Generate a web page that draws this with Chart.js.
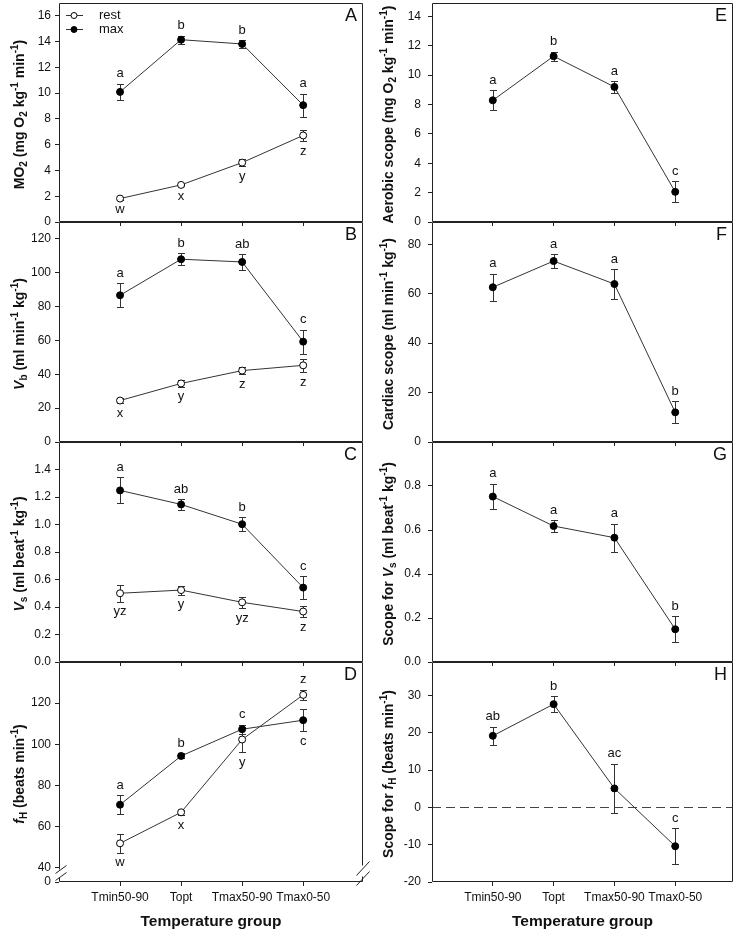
<!DOCTYPE html>
<html>
<head>
  <title>Temperature group panels</title>
  <script src="https://cdn.jsdelivr.net/npm/chart.js"></script>
  <style>
    body { margin: 0; background: #fff; }
    #wrap { position: relative; width: 741px; height: 932px; }
    #wrap canvas { position: absolute; }
  </style>
</head>
<body>
  <div id="wrap"></div>
  <script>
    const groups = ['Tmin50-90', 'Topt', 'Tmax50-90', 'Tmax0-50'];

    // A: MO2
    const mo2Rest = [1.82, 2.88, 4.61, 6.72];
    const mo2RestErr = [0.1, 0.1, 0.3, 0.45];
    const mo2RestSig = ['w', 'x', 'y', 'z'];
    const mo2Max = [10.1, 14.15, 13.82, 9.07];
    const mo2MaxErr = [0.65, 0.3, 0.3, 0.9];
    const mo2MaxSig = ['a', 'b', 'b', 'a'];

    // B: Vb
    const vbRest = [24.5, 34.6, 42.2, 45.3];
    const vbRestErr = [1.6, 2.0, 2.0, 4.0];
    const vbRestSig = ['x', 'y', 'z', 'z'];
    const vbMax = [86.7, 108.0, 106.4, 59.3];
    const vbMaxErr = [7.2, 3.5, 4.6, 7.1];
    const vbMaxSig = ['a', 'b', 'ab', 'c'];

    // C: Vs
    const vsRest = [0.5, 0.523, 0.434, 0.367];
    const vsRestErr = [0.063, 0.033, 0.041, 0.04];
    const vsRestSig = ['yz', 'y', 'yz', 'z'];
    const vsMax = [1.248, 1.146, 1.002, 0.541];
    const vsMaxErr = [0.094, 0.037, 0.05, 0.085];
    const vsMaxSig = ['a', 'ab', 'b', 'c'];

    // D: fH
    const fhRest = [51.8, 66.9, 102.3, 124.0];
    const fhRestErr = [4.5, 1.3, 6.2, 2.6];
    const fhRestSig = ['w', 'x', 'y', 'z'];
    const fhRestSigPos = ['below', 'below', 'below', 'above'];
    const fhMax = [70.6, 94.3, 107.3, 111.7];
    const fhMaxErr = [4.5, 1.2, 2.2, 5.5];
    const fhMaxSig = ['a', 'b', 'c', 'c'];
    const fhMaxSigPos = ['above', 'above', 'above', 'below'];

    // E-H: scopes
    const aerobicScope = [8.28, 11.28, 9.19, 2.05];
    const aerobicScopeErr = [0.68, 0.3, 0.4, 0.72];
    const aerobicScopeSig = ['a', 'b', 'a', 'c'];
    const cardiacScope = [62.6, 73.2, 63.9, 12.0];
    const cardiacScopeErr = [5.4, 2.8, 6.1, 4.4];
    const cardiacScopeSig = ['a', 'a', 'a', 'b'];
    const vsScope = [0.752, 0.618, 0.565, 0.149];
    const vsScopeErr = [0.058, 0.027, 0.063, 0.06];
    const vsScopeSig = ['a', 'a', 'a', 'b'];
    const fhScope = [19.2, 27.7, 5.1, -10.4];
    const fhScopeErr = [2.4, 2.1, 6.6, 4.75];
    const fhScopeSig = ['ab', 'b', 'ac', 'c'];

    const FONT = "'Liberation Sans', Arial, sans-serif";
    const INK = '#111';
    const LINE = '#333';

    const rest = (v, e, s, pos) => ({ label: 'rest', v, e, s, pos: pos || 'below', open: true });
    const max = (v, e, s, pos) => ({ label: 'max', v, e, s, pos: pos || 'above', open: false });

    const panels = [
      { key: 'A', col: 0, row: 0, min: 0, max: 17, from: 0, to: 16, step: 2, dec: 0, legend: true,
        title: [['MO', 'b'], ['2', 'sub'], [' (mg O', 'b'], ['2', 'sub'], [' kg', 'b'], ['-1', 'sup'], [' min', 'b'], ['-1', 'sup'], [')', 'b']],
        series: [rest(mo2Rest, mo2RestErr, mo2RestSig), max(mo2Max, mo2MaxErr, mo2MaxSig)] },
      { key: 'B', col: 0, row: 1, min: 0, max: 130, from: 0, to: 120, step: 20, dec: 0,
        title: [['V', 'i'], ['b', 'sub'], [' (ml min', 'b'], ['-1', 'sup'], [' kg', 'b'], ['-1', 'sup'], [')', 'b']],
        series: [rest(vbRest, vbRestErr, vbRestSig), max(vbMax, vbMaxErr, vbMaxSig)] },
      { key: 'C', col: 0, row: 2, min: 0, max: 1.6, from: 0, to: 1.4, step: 0.2, dec: 1,
        title: [['V', 'i'], ['s', 'sub'], [' (ml beat', 'b'], ['-1', 'sup'], [' kg', 'b'], ['-1', 'sup'], [')', 'b']],
        series: [rest(vsRest, vsRestErr, vsRestSig), max(vsMax, vsMaxErr, vsMaxSig)] },
      { key: 'D', col: 0, row: 3, min: 33, max: 140, from: 40, to: 120, step: 20, dec: 0, broken: true,
        title: [['f', 'i'], ['H', 'sub'], [' (beats min', 'b'], ['-1', 'sup'], [')', 'b']],
        series: [rest(fhRest, fhRestErr, fhRestSig, fhRestSigPos), max(fhMax, fhMaxErr, fhMaxSig, fhMaxSigPos)] },
      { key: 'E', col: 1, row: 0, min: 0, max: 14.9, from: 0, to: 14, step: 2, dec: 0,
        title: [['Aerobic scope (mg O', 'b'], ['2', 'sub'], [' kg', 'b'], ['-1', 'sup'], [' min', 'b'], ['-1', 'sup'], [')', 'b']],
        series: [max(aerobicScope, aerobicScopeErr, aerobicScopeSig)] },
      { key: 'F', col: 1, row: 1, min: 0, max: 89, from: 0, to: 80, step: 20, dec: 0,
        title: [['Cardiac scope (ml min', 'b'], ['-1', 'sup'], [' kg', 'b'], ['-1', 'sup'], [')', 'b']],
        series: [max(cardiacScope, cardiacScopeErr, cardiacScopeSig)] },
      { key: 'G', col: 1, row: 2, min: 0, max: 1.0, from: 0, to: 0.8, step: 0.2, dec: 1,
        title: [['Scope for ', 'b'], ['V', 'i'], ['s', 'sub'], [' (ml beat', 'b'], ['-1', 'sup'], [' kg', 'b'], ['-1', 'sup'], [')', 'b']],
        series: [max(vsScope, vsScopeErr, vsScopeSig)] },
      { key: 'H', col: 1, row: 3, min: -20, max: 39, from: -20, to: 30, step: 10, dec: 0, zeroLine: true,
        title: [['Scope for ', 'b'], ['f', 'i'], ['H', 'sub'], [' (beats min', 'b'], ['-1', 'sup'], [')', 'b']],
        series: [max(fhScope, fhScopeErr, fhScopeSig)] }
    ];

    // canvas placement for each row / column
    const rows = [
      { top: 0, h: 232, pad: 3, xh: 10 },
      { top: 212, h: 240, pad: 10, xh: 10 },
      { top: 432, h: 240, pad: 10, xh: 10 },
      { top: 652, h: 280, pad: 10, xh: 50 }
    ];
    const cols = [
      { left: 0, w: 370, axisW: 59, padR: 7, tickPad: 4, titleX: 18.5, xMax: 4.98 },
      { left: 370, w: 371, axisW: 62, padR: 8, tickPad: 7, titleX: 17.5, xMax: 4.95 }
    ];

    function drawTitle(ctx, segs, cx, cy) {
      const fontOf = k => k === 'i' ? 'italic bold 14px ' + FONT
        : (k === 'sub' || k === 'sup') ? 'bold 10px ' + FONT : 'bold 14px ' + FONT;
      ctx.save();
      let total = 0;
      segs.forEach(([t, k]) => { ctx.font = fontOf(k); total += ctx.measureText(t).width; });
      ctx.translate(cx, cy);
      ctx.rotate(-Math.PI / 2);
      ctx.textAlign = 'left';
      ctx.textBaseline = 'alphabetic';
      ctx.fillStyle = INK;
      let x = -total / 2;
      segs.forEach(([t, k]) => {
        ctx.font = fontOf(k);
        const dy = k === 'sub' ? 3 : k === 'sup' ? -6 : 0;
        ctx.fillText(t, x, 5 + dy);
        x += ctx.measureText(t).width;
      });
      ctx.restore();
    }

    function line(ctx, x1, y1, x2, y2) {
      ctx.beginPath();
      ctx.moveTo(x1, y1);
      ctx.lineTo(x2, y2);
      ctx.stroke();
    }

    function decor(p, col) {
      return {
        id: 'decor' + p.key,
        beforeDatasetsDraw(chart) {
          const ctx = chart.ctx;
          const ys = chart.scales.y;
          const a = chart.chartArea;
          ctx.save();
          if (p.zeroLine) {
            const y0 = Math.round(ys.getPixelForValue(0)) + 0.5;
            ctx.strokeStyle = '#444';
            ctx.lineWidth = 1;
            ctx.setLineDash([9, 5]);
            line(ctx, a.left, y0, a.right, y0);
            ctx.setLineDash([]);
          }
          ctx.strokeStyle = LINE;
          ctx.lineWidth = 1;
          p.series.forEach((s, di) => {
            chart.getDatasetMeta(di).data.forEach((pt, i) => {
              const x = Math.round(pt.x) + 0.5;
              const yt = Math.round(ys.getPixelForValue(s.v[i] + s.e[i])) + 0.5;
              const yb = Math.round(ys.getPixelForValue(s.v[i] - s.e[i])) + 0.5;
              line(ctx, x, yt, x, yb);
              line(ctx, x - 3.5, yt, x + 3.5, yt);
              line(ctx, x - 3.5, yb, x + 3.5, yb);
            });
          });
          ctx.restore();
        },
        afterDraw(chart) {
          const ctx = chart.ctx;
          const ys = chart.scales.y;
          const a = chart.chartArea;
          const L = Math.round(a.left) + 0.5, R = Math.round(a.right) - 0.5;
          const T = Math.round(a.top) + 0.5, B = Math.round(a.bottom) - 0.5;
          ctx.save();
          ctx.strokeStyle = '#222';
          ctx.lineWidth = 1;
          line(ctx, L, T, R, T);
          line(ctx, L, B, R, B);
          if (p.broken) {
            // axis break on both sides, near the bottom
            line(ctx, L, T, L, B - 12);
            line(ctx, L, B - 4, L, B);
            line(ctx, R, T, R, B - 16);
            line(ctx, R, B - 5, R, B);
            line(ctx, L - 4, B - 8, L + 7, B - 16);
            line(ctx, L - 4, B - 1, L + 7, B - 9);
            line(ctx, R - 6, B - 6, R + 7, B - 20);
            line(ctx, R - 6, B + 4, R + 7, B - 10);
          } else {
            line(ctx, L, T, L, B);
            line(ctx, R, T, R, B);
          }

          // significance letters
          ctx.fillStyle = INK;
          ctx.font = '13px ' + FONT;
          ctx.textAlign = 'center';
          ctx.textBaseline = 'middle';
          p.series.forEach((s, di) => {
            chart.getDatasetMeta(di).data.forEach((pt, i) => {
              const pos = Array.isArray(s.pos) ? s.pos[i] : s.pos;
              const y = pos === 'above'
                ? ys.getPixelForValue(s.v[i] + s.e[i]) - 10
                : ys.getPixelForValue(s.v[i] - s.e[i]) + 10;
              ctx.fillText(s.s[i], pt.x, y);
            });
          });

          // panel letter
          ctx.font = '18px ' + FONT;
          ctx.textAlign = 'right';
          ctx.fillText(p.key, a.right - 6, a.top + 13);

          // legend
          if (p.legend) {
            ctx.font = '13px ' + FONT;
            ctx.textAlign = 'left';
            p.series.forEach((s, di) => {
              const y = a.top + 12.5 + di * 14;
              ctx.strokeStyle = LINE;
              line(ctx, a.left + 7, y, a.left + 24, y);
              ctx.beginPath();
              ctx.arc(a.left + 15, y, 3, 0, Math.PI * 2);
              ctx.fillStyle = s.open ? '#fff' : '#000';
              ctx.fill();
              ctx.strokeStyle = '#000';
              ctx.stroke();
              ctx.fillStyle = INK;
              ctx.fillText(s.label, a.left + 40, y);
            });
          }
          ctx.restore();

          drawTitle(ctx, p.title, col.titleX, (a.top + a.bottom) / 2 + 2);
        }
      };
    }

    const wrap = document.getElementById('wrap');

    panels.forEach(p => {
      const r = rows[p.row];
      const c = cols[p.col];
      const cv = document.createElement('canvas');
      cv.width = c.w;
      cv.height = r.h;
      cv.style.left = c.left + 'px';
      cv.style.top = r.top + 'px';
      cv.style.width = c.w + 'px';
      cv.style.height = r.h + 'px';
      wrap.appendChild(cv);

      const yTicks = [];
      if (p.broken) yTicks.push(p.min);
      for (let v = p.from; v <= p.to + 1e-9; v += p.step) yTicks.push(+v.toFixed(6));
      const bottomRow = p.row === 3;

      new Chart(cv.getContext('2d'), {
        type: 'line',
        data: {
          datasets: p.series.map(s => ({
            label: s.label,
            data: s.v.map((v, i) => ({ x: i + 1, y: v })),
            borderColor: LINE,
            borderWidth: 1,
            pointRadius: 3.5,
            pointBackgroundColor: s.open ? '#fff' : '#000',
            pointBorderColor: '#000',
            pointBorderWidth: 1,
            fill: false,
            tension: 0
          }))
        },
        options: {
          responsive: false,
          animation: false,
          devicePixelRatio: 1,
          layout: { autoPadding: false, padding: { top: r.pad, right: c.padR, left: 0, bottom: 0 } },
          plugins: { legend: { display: false }, tooltip: { enabled: false } },
          scales: {
            x: {
              type: 'linear', min: 0, max: c.xMax,
              afterBuildTicks: s => { s.ticks = [1, 2, 3, 4].map(v => ({ value: v })); },
              afterFit: s => { s.height = r.xh; s.paddingLeft = 0; s.paddingRight = 0; },
              grid: { drawOnChartArea: false, drawTicks: true, tickLength: 4, color: '#222' },
              border: { display: false },
              ticks: {
                display: bottomRow, autoSkip: false, maxRotation: 0, padding: 4,
                color: INK, font: { family: FONT, size: 12 },
                callback: v => groups[v - 1]
              },
              title: {
                display: bottomRow, text: 'Temperature group', color: INK,
                font: { family: FONT, size: 15.5, weight: 'bold' }, padding: { top: 0, bottom: 1 }
              }
            },
            y: {
              min: p.min, max: p.max,
              afterBuildTicks: s => { s.ticks = yTicks.map(v => ({ value: v })); },
              afterFit: s => { s.width = c.axisW; s.paddingTop = 0; s.paddingBottom = 0; },
              grid: { drawOnChartArea: false, drawTicks: true, tickLength: 4, color: '#222' },
              border: { display: false },
              ticks: {
                padding: c.tickPad, color: INK, font: { family: FONT, size: 12 },
                callback: v => (p.broken && v === p.min) ? '0' : v.toFixed(p.dec)
              }
            }
          }
        },
        plugins: [decor(p, c)]
      });
    });
  </script>
</body>
</html>
